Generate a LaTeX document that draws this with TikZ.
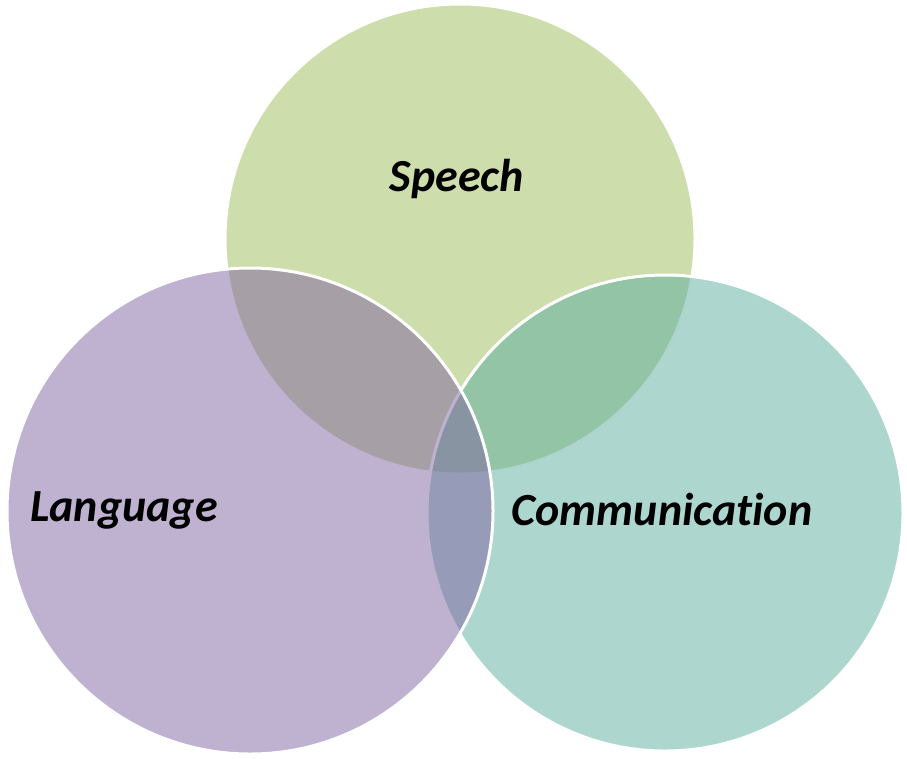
\documentclass[tikz,border=0pt]{standalone}
\usepackage{fontspec}
\setmainfont[Ligatures=NoCommon]{Carlito}
\definecolor{cspeech}{RGB}{155,187,89}
\definecolor{clang}{RGB}{128,100,162}
\definecolor{ccomm}{RGB}{91,173,159}
\tikzset{
  venn/.style={circle, draw=white, line width=3pt, fill opacity=0.5, draw opacity=1, inner sep=0pt},
  lbl/.style={anchor=base, font=\fontsize{46}{55}\selectfont\bfseries\itshape, text=black, inner sep=0pt}
}
\begin{document}
\begin{tikzpicture}[x=1pt,y=-1pt]
\useasboundingbox (0,0) rectangle (907,758);
\node[venn, fill=cspeech, minimum size=470pt] (speech) at (460,239) {};
\node[venn, fill=ccomm, minimum size=476pt] (comm) at (665,513) {};
\node[venn, fill=clang, minimum size=486pt] (lang) at (250,511) {};
\node[lbl] (tspeech) at (457,191) {Speech};
\node[lbl] (tlang) at (124,521) {Language};
\node[lbl] (tcomm) at (662,525) {Communication};
\end{tikzpicture}
\end{document}
